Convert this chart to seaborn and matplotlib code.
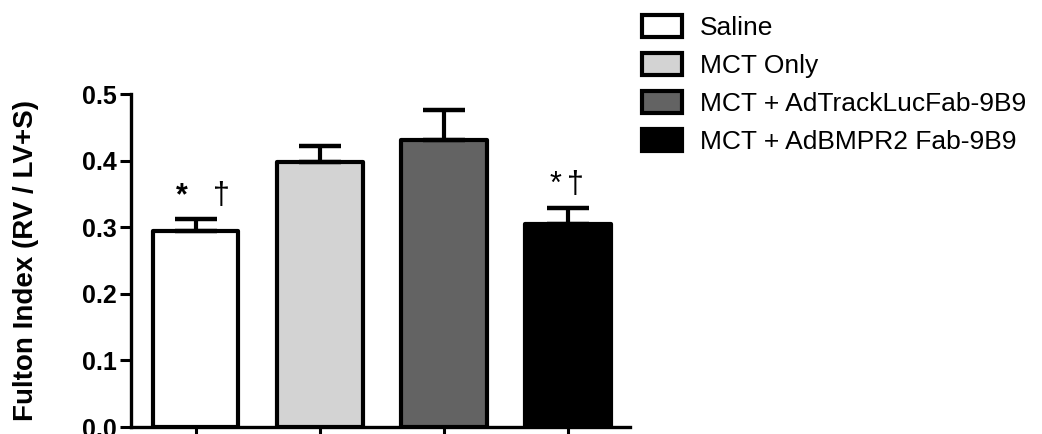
import matplotlib
matplotlib.use('Agg')
import matplotlib.pyplot as plt
import seaborn as sns
import pandas as pd

groups = ['Saline', 'MCT Only', 'MCT + AdTrackLucFab-9B9', 'MCT + AdBMPR2 Fab-9B9']
means = [0.295, 0.398, 0.431, 0.305]
sems = [0.017, 0.024, 0.045, 0.024]
colors = ['#ffffff', '#d3d3d3', '#636363', '#000000']
yticks = [0.0, 0.1, 0.2, 0.3, 0.4, 0.5]

sns.set_style('ticks')
plt.rcParams['font.family'] = ['Liberation Sans', 'DejaVu Sans']
plt.rcParams.update({'text.color': 'black', 'axes.labelcolor': 'black',
                     'xtick.color': 'black', 'ytick.color': 'black', 'axes.edgecolor': 'black'})

df = pd.DataFrame({'group': groups, 'fulton': means, 'sem': sems})

fig = plt.figure(figsize=(10.42, 4.34), dpi=100)
ax = fig.add_axes([0.1257, 0.0161, 0.479, 0.7673])

sns.barplot(data=df, x='group', y='fulton', hue='group', palette=colors,
            order=groups, hue_order=groups, width=0.69, errorbar=None,
            edgecolor='black', linewidth=3.0, legend=True, ax=ax)
for p in ax.patches:
    p.set_joinstyle('round')

# upper-only SEM bars
ax.errorbar(range(len(groups)), df['fulton'], yerr=[[0] * len(groups), df['sem']],
            fmt='none', ecolor='black', elinewidth=3.0, capsize=15, capthick=3.2, zorder=1)

# significance marks
ax.text(-0.11, means[0] + sems[0] + 0.012, '*', ha='center', va='bottom', fontsize=22, fontweight='bold')
ax.text(0.21, means[0] + sems[0] + 0.012, '†', ha='center', va='bottom', fontsize=22)
ax.text(2.9, means[3] + sems[3] + 0.012, '*', ha='center', va='bottom', fontsize=22)
ax.text(3.06, means[3] + sems[3] + 0.012, '†', ha='center', va='bottom', fontsize=22)

ax.set_xlim(-0.52, 3.5)
ax.set_ylim(0, 0.5)
ax.set_yticks(yticks)
ax.set_yticklabels([f'{t:.1f}' for t in yticks], fontweight='bold', fontsize=18)
ax.set_xticklabels([])
ax.set_xlabel('')
ax.set_ylabel('Fulton Index (RV / LV+S)', fontweight='bold', fontsize=20, labelpad=31)
ax.tick_params(axis='both', width=2.2, length=8, direction='out', pad=2)
sns.despine(ax=ax)
for s in ['left', 'bottom']:
    ax.spines[s].set_linewidth(2.4)

handles, labels = ax.get_legend_handles_labels()
ax.legend_.remove()
for h in handles:
    h.set_linewidth(3.0)
fig.legend(handles, labels, loc='upper left', bbox_to_anchor=(0.616, 0.965), frameon=False,
           fontsize=19, handlelength=1.52, handleheight=0.87, labelspacing=0.5,
           handletextpad=0.68, borderaxespad=0, borderpad=0)

fig.savefig('out.png', dpi=100)
